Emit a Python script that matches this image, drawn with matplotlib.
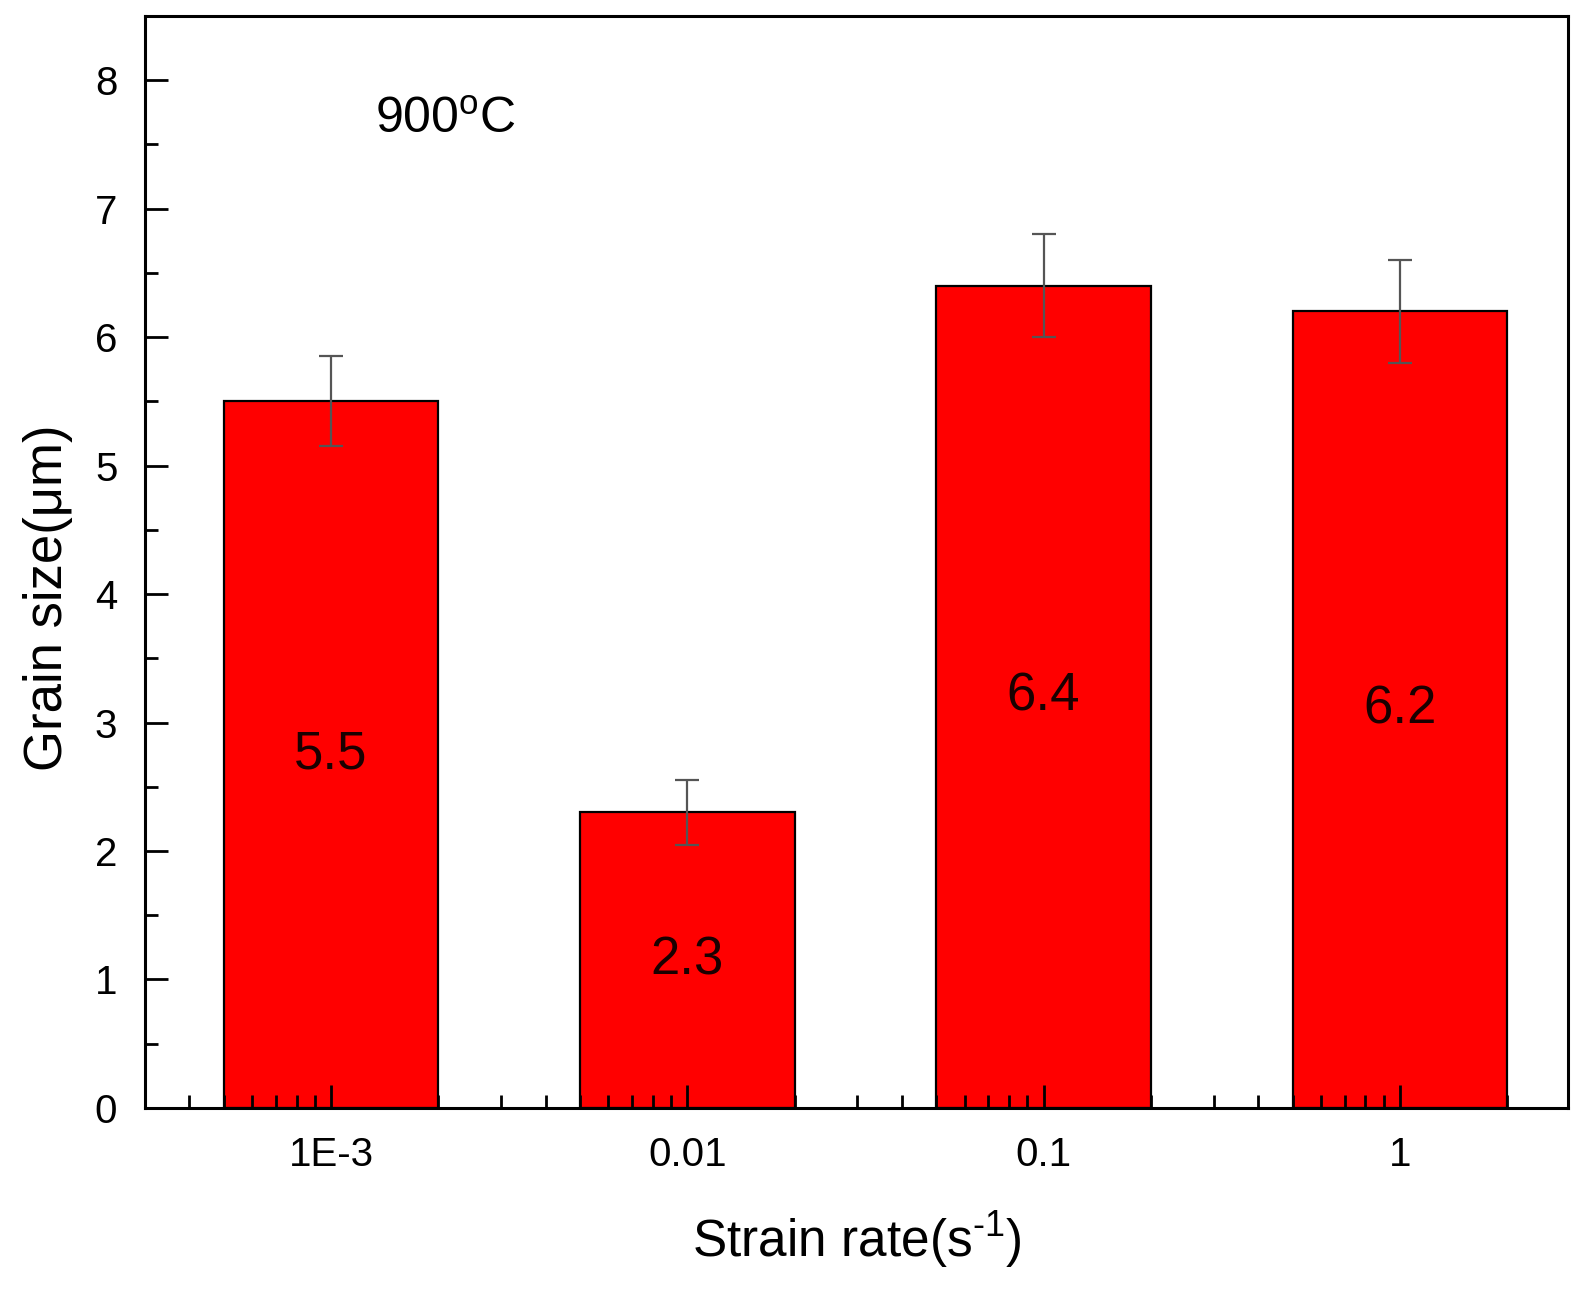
import numpy as np
import matplotlib
matplotlib.use('Agg')
import matplotlib.pyplot as plt
from matplotlib.ticker import LogLocator, MultipleLocator, FixedFormatter, FixedLocator, NullFormatter

# data
strain_rates = [1e-3, 1e-2, 1e-1, 1.0]
tick_labels = ['1E-3', '0.01', '0.1', '1']
grain_size = [5.5, 2.3, 6.4, 6.2]
grain_err = [0.35, 0.25, 0.4, 0.4]

plt.rcParams['font.family'] = ['Liberation Sans', 'DejaVu Sans']
plt.rcParams['mathtext.fontset'] = 'custom'
plt.rcParams['mathtext.rm'] = 'Liberation Sans'

fig = plt.figure(figsize=(15.96, 12.96), dpi=100)
ax = fig.add_axes([0.0909, 0.1451, 0.8916, 0.8426])
ax.set_axisbelow(False)  # minor ticks show on top of the bars

x = np.array(strain_rates)
# bars span x/2 .. 2x on the log axis
ax.bar(x / 2, grain_size, width=1.5 * x, align='edge', color='#ff0000',
       edgecolor='black', linewidth=1.6, zorder=2)
ax.errorbar(x, grain_size, yerr=grain_err, fmt='none', ecolor='#555555',
            elinewidth=1.6, capsize=8.5, capthick=1.6, zorder=3)

for xi, v in zip(x, grain_size):
    ax.text(xi, v / 2, f'{v:.1f}', ha='center', va='center', fontsize=38,
            color='#1a0000', zorder=4)

ax.set_xscale('log')
ax.set_xlim(10 ** -3.522, 10 ** 0.472)
ax.set_ylim(0, 8.5)

ax.xaxis.set_major_locator(FixedLocator(strain_rates))
ax.xaxis.set_major_formatter(FixedFormatter(tick_labels))
ax.xaxis.set_minor_locator(LogLocator(base=10, subs=np.arange(2, 10)))
ax.xaxis.set_minor_formatter(NullFormatter())
ax.yaxis.set_major_locator(MultipleLocator(1))
ax.yaxis.set_minor_locator(MultipleLocator(0.5))

ax.tick_params(which='both', direction='in', top=False, right=False,
               width=2, labelsize=29, pad=20)
ax.tick_params(which='major', length=16.5)
ax.tick_params(which='minor', length=9.5)
for sp in ax.spines.values():
    sp.set_linewidth(2.2)
    sp.set_zorder(5)

ax.set_xlabel('Strain rate(s$^{\\text{-1}}$)', fontsize=37, labelpad=26)
ax.set_ylabel('Grain size(\u03bcm)', fontsize=38)
ax.yaxis.set_label_coords(-0.051, 0.467)

ax.text(0.211, 0.905, '900$^{\\rm o}$C', transform=ax.transAxes, ha='center',
        va='center', fontsize=36)

fig.savefig('out.png', dpi=100)
